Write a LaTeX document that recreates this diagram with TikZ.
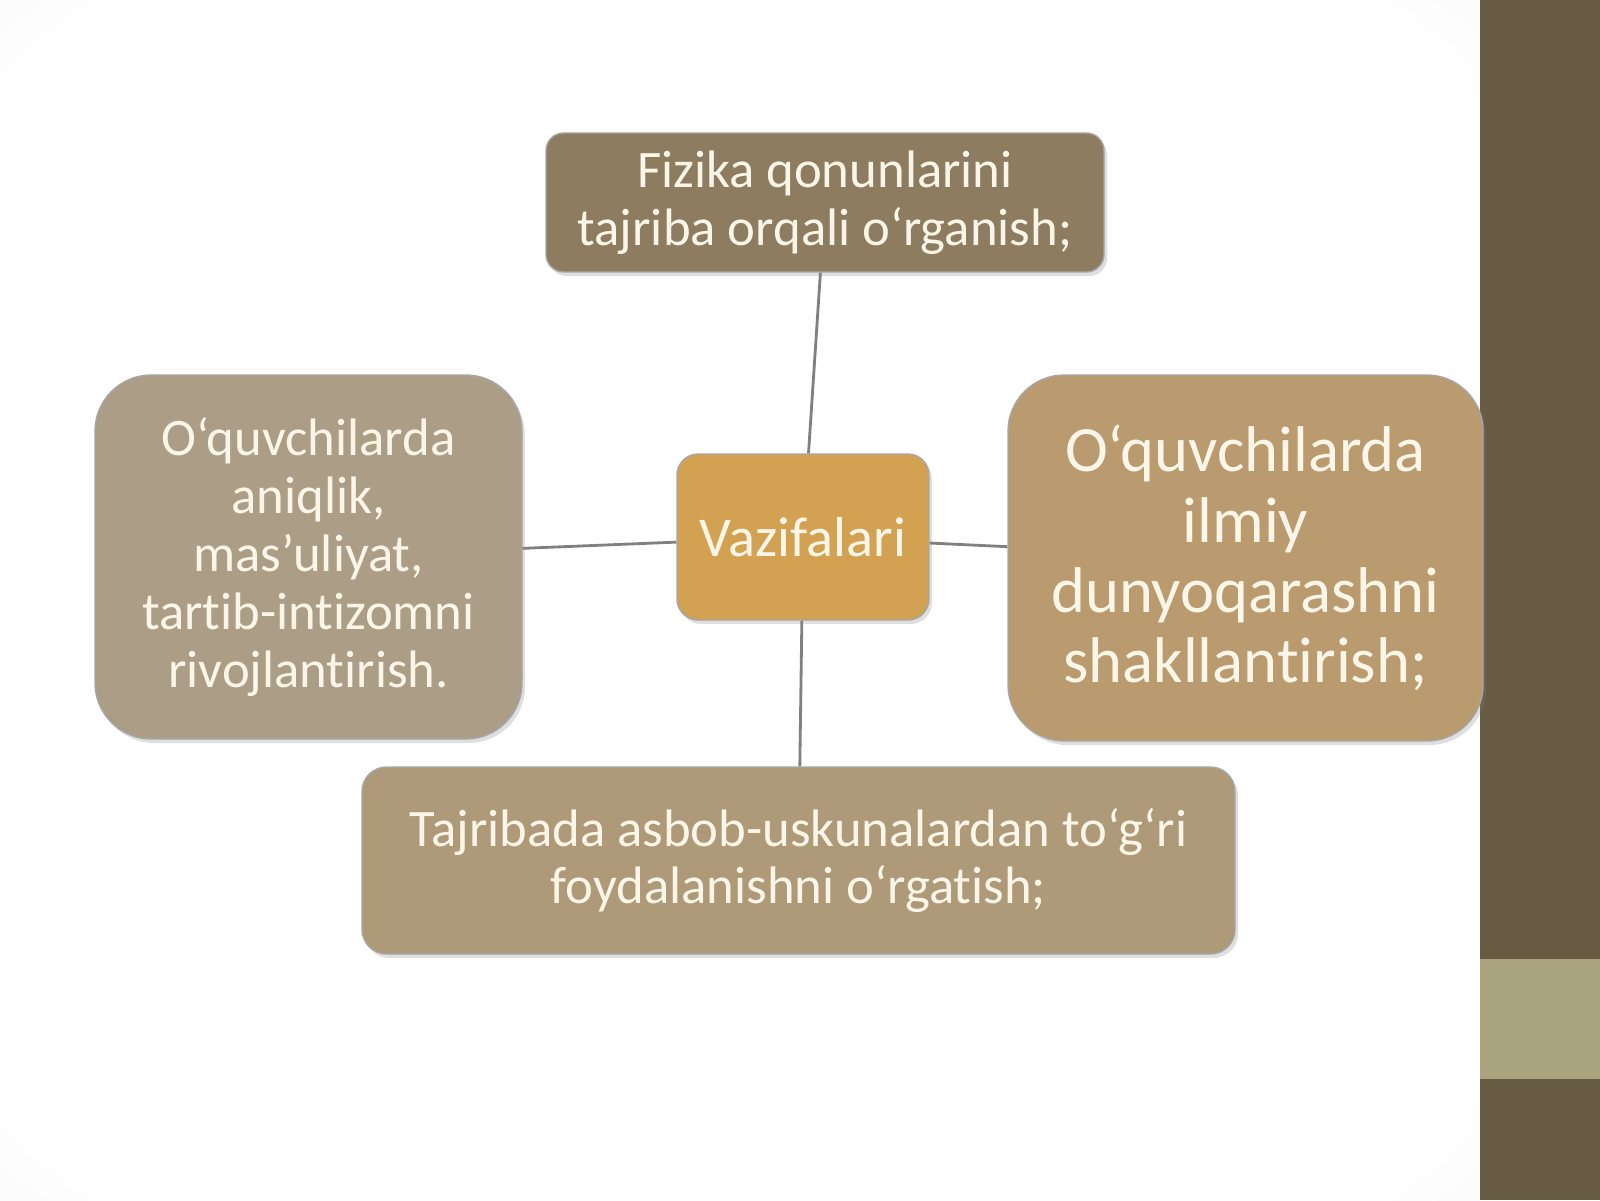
\documentclass[tikz,border=0pt]{standalone}
\usepackage{fontspec}
\setmainfont{Carlito}[Ligatures=NoCommon]
\usetikzlibrary{shadows}
\definecolor{barDark}{HTML}{675C43}
\definecolor{barLight}{HTML}{A9A47E}
\definecolor{boxTop}{HTML}{8D7C60}
\definecolor{boxLeft}{HTML}{AC9E86}
\definecolor{boxRight}{HTML}{B99B6F}
\definecolor{boxBottom}{HTML}{AE9978}
\definecolor{boxHub}{HTML}{D3A152}
\definecolor{cream}{HTML}{FBF6E8}
\pgfdeclareradialshading{vignette}{\pgfpoint{0bp}{0bp}}{color(0bp)=(white); color(32bp)=(white); color(71bp)=(black!17)}
\tikzset{box/.style={rectangle, rounded corners=#1, draw=black!35, line width=0.4pt,
      text=cream, align=center, inner sep=0pt,
      drop shadow={opacity=0.25, shadow xshift=0.03, shadow yshift=-0.04}},
  box/.default=6pt,
  link/.style={draw=black!50, line width=0.8pt}}

\begin{document}
\begin{tikzpicture}
    \useasboundingbox (0,0) rectangle (16,12);
    \shade[shading=vignette] (0,0) rectangle (14.8,12);
    \fill[barDark] (14.8,0) rectangle (16,12);
    \fill[barLight] (14.8,1.21) rectangle (16,2.41);
    % nodes
    \node[box=6pt, fill=boxHub, minimum width=2.52cm, minimum height=1.66cm,
      font=\fontsize{16}{16.5}\selectfont] (hub) at (8.03,6.63) {Vazifalari};
    \node[box=5pt, fill=boxTop, minimum width=5.58cm, minimum height=1.39cm,
      font=\fontsize{15}{16.5}\selectfont] (laws) at (8.25,9.975)
      {Fizika qonunlarini\\tajriba orqali o‘rganish;};
    \node[box=16pt, fill=boxLeft, minimum width=4.27cm, minimum height=3.64cm,
      font=\fontsize{15}{16.5}\selectfont] (traits) at (3.085,6.43)
      {O‘quvchilarda\\aniqlik,\\mas’uliyat,\\tartib-intizomni\\rivojlantirish.};
    \node[box=16pt, fill=boxRight, minimum width=4.75cm, minimum height=3.66cm,
      font=\fontsize{18.4}{20}\selectfont] (worldview) at (12.455,6.42)
      {O‘quvchilarda\\ilmiy\\dunyoqarashni\\shakllantirish;};
    \node[box=7pt, fill=boxBottom, minimum width=8.73cm, minimum height=1.87cm,
      font=\fontsize{15}{16}\selectfont] (tools) at (7.985,3.395)
      {Tajribada asbob-uskunalardan to‘g‘ri\\foydalanishni o‘rgatish;};
    % links
    \draw[link] (hub) -- (laws);
    \draw[link] (hub) -- (traits);
    \draw[link] (hub) -- (worldview);
    \draw[link] (hub) -- (tools);
\end{tikzpicture}
\end{document}
